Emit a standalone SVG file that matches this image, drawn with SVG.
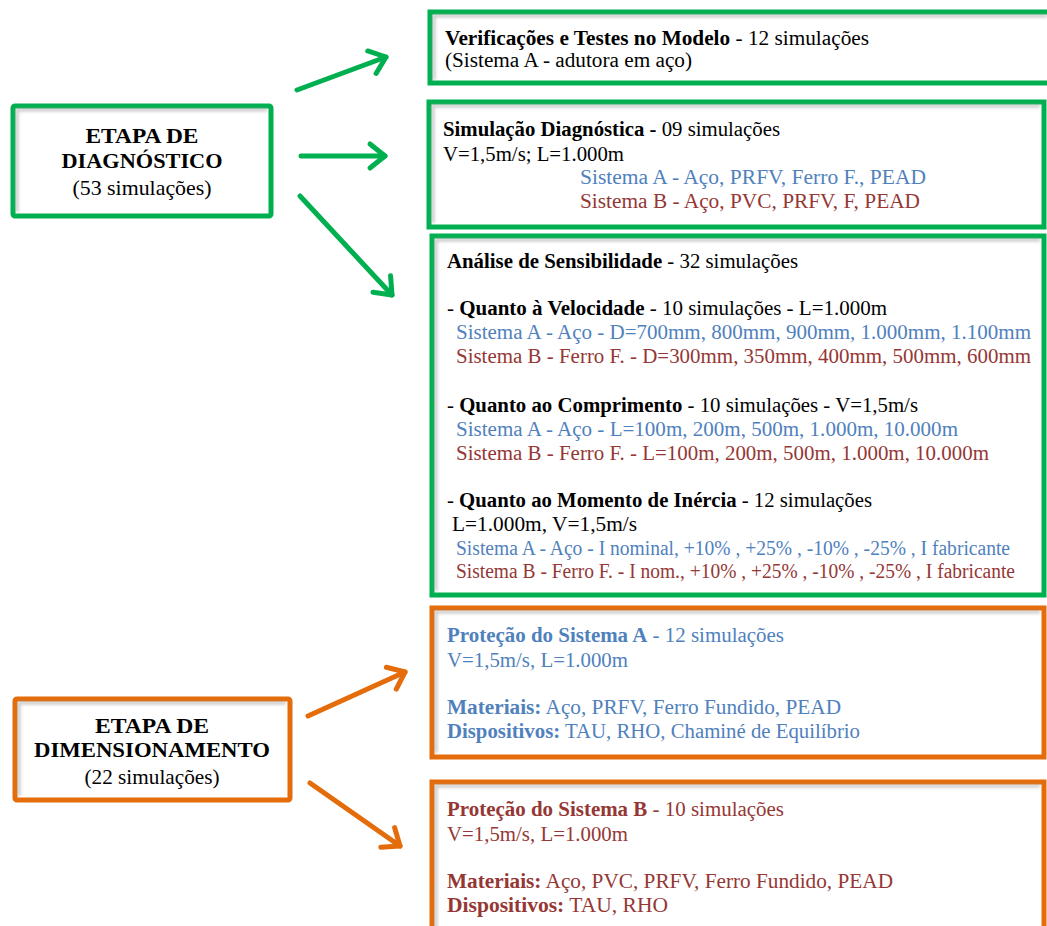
<svg xmlns="http://www.w3.org/2000/svg" width="1047" height="926" viewBox="0 0 1047 926">
<style>
.g{fill:#fff;stroke:#00B050;stroke-width:5}
.o{fill:#fff;stroke:#E46C0A;stroke-width:5}
.sh{fill:none;stroke:#9a9a9a;stroke-width:3;opacity:0.55;filter:url(#blur)}
text{font-family:"Liberation Serif","Times New Roman",serif;font-size:20px;fill:#000}
.b{font-weight:bold}
.t{font-size:22px;font-weight:bold}
.s{font-size:21px}
.bl{fill:#4F81BD}
.rd{fill:#953735}
.cg{fill:none;stroke:#00B050;stroke-width:5;stroke-linecap:round}
.co{fill:none;stroke:#E46C0A;stroke-width:5;stroke-linecap:round}
</style>
<defs>
<filter id="blur" x="-5%" y="-5%" width="110%" height="110%"><feGaussianBlur stdDeviation="1.5"/></filter>
<marker id="ag" markerUnits="userSpaceOnUse" markerWidth="40" markerHeight="40" viewBox="-20 -20 40 40" refX="0" refY="0" orient="auto" overflow="visible">
<path d="M-15,-12 L0,0 L-15,12" fill="none" stroke="#00B050" stroke-width="5" stroke-linecap="round" stroke-linejoin="round"/>
</marker>
<marker id="ao" markerUnits="userSpaceOnUse" markerWidth="40" markerHeight="40" viewBox="-20 -20 40 40" refX="0" refY="0" orient="auto" overflow="visible">
<path d="M-15,-12 L0,0 L-15,12" fill="none" stroke="#E46C0A" stroke-width="5" stroke-linecap="round" stroke-linejoin="round"/>
</marker>
</defs>
<rect width="1047" height="926" fill="#fff"/>

<g id="connectors">
<line class="cg" x1="297" y1="90" x2="386" y2="57" marker-end="url(#ag)"/>
<line class="cg" x1="301" y1="156" x2="385" y2="156" marker-end="url(#ag)"/>
<line class="cg" x1="300" y1="196" x2="392" y2="295" marker-end="url(#ag)"/>
<line class="co" x1="308" y1="716" x2="405" y2="672" marker-end="url(#ao)"/>
<line class="co" x1="310" y1="783" x2="400" y2="846" marker-end="url(#ao)"/>
</g>

<g id="etapa-diagnostico">
<rect class="g" x="13" y="106" width="258" height="110" rx="2"/>
<path class="sh" d="M17,212 V110 H267"/>
<text class="t" x="142" y="143" text-anchor="middle" textLength="113" lengthAdjust="spacingAndGlyphs">ETAPA  DE</text>
<text class="t" x="142" y="168" text-anchor="middle" textLength="161" lengthAdjust="spacingAndGlyphs">DIAGNÓSTICO</text>
<text class="s" x="142" y="195" text-anchor="middle" textLength="139" lengthAdjust="spacingAndGlyphs">(53 simulações)</text>
</g>

<g id="etapa-dimensionamento">
<rect class="o" x="15" y="699" width="275" height="101" rx="2"/>
<path class="sh" d="M19,796 V703 H286"/>
<text class="t" x="152" y="733" text-anchor="middle" textLength="114" lengthAdjust="spacingAndGlyphs">ETAPA  DE</text>
<text class="t" x="152" y="757" text-anchor="middle" textLength="236" lengthAdjust="spacingAndGlyphs">DIMENSIONAMENTO</text>
<text class="s" x="152" y="784" text-anchor="middle" textLength="135" lengthAdjust="spacingAndGlyphs">(22 simulações)</text>
</g>

<g id="verificacoes">
<rect class="g" x="430" y="12" width="630" height="71"/>
<path class="sh" d="M434,80 V16 H1047"/>
<text x="445" y="45" textLength="424" lengthAdjust="spacingAndGlyphs"><tspan class="b">Verificações e Testes  no Modelo</tspan> - 12 simulações</text>
<text x="445" y="67" textLength="247" lengthAdjust="spacingAndGlyphs">(Sistema A - adutora em aço)</text>
</g>

<g id="simulacao-diagnostica">
<rect class="g" x="429" y="102" width="615" height="125"/>
<path class="sh" d="M433,223 V106 H1040"/>
<text x="443" y="136" textLength="337" lengthAdjust="spacingAndGlyphs"><tspan class="b">Simulação Diagnóstica -</tspan> 09 simulações</text>
<text x="443" y="161" textLength="181" lengthAdjust="spacingAndGlyphs">V=1,5m/s;  L=1.000m</text>
<text class="bl" x="580" y="184" textLength="346" lengthAdjust="spacingAndGlyphs">Sistema A - Aço, PRFV, Ferro F., PEAD</text>
<text class="rd" x="580" y="208" textLength="340" lengthAdjust="spacingAndGlyphs">Sistema B - Aço, PVC, PRFV, F, PEAD</text>
</g>

<g id="analise-sensibilidade">
<rect class="g" x="432" y="236" width="612" height="359"/>
<path class="sh" d="M436,591 V240 H1040"/>
<text x="447" y="268" textLength="351" lengthAdjust="spacingAndGlyphs"><tspan class="b">Análise de Sensibilidade</tspan> - 32 simulações</text>
<text x="447" y="315" textLength="440" lengthAdjust="spacingAndGlyphs">- <tspan class="b">Quanto à Velocidade</tspan> - 10 simulações  - L=1.000m</text>
<text class="bl" x="456" y="339" textLength="575" lengthAdjust="spacingAndGlyphs">Sistema A - Aço - D=700mm,  800mm,  900mm,  1.000mm,  1.100mm</text>
<text class="rd" x="456" y="363" textLength="575" lengthAdjust="spacingAndGlyphs">Sistema B - Ferro F. - D=300mm,  350mm,  400mm,  500mm,  600mm</text>
<text x="447" y="412" textLength="471" lengthAdjust="spacingAndGlyphs">- <tspan class="b">Quanto ao Comprimento</tspan> - 10 simulações  - V=1,5m/s</text>
<text class="bl" x="456" y="436" textLength="502" lengthAdjust="spacingAndGlyphs">Sistema A - Aço - L=100m,  200m,  500m,  1.000m,  10.000m</text>
<text class="rd" x="456" y="460" textLength="533" lengthAdjust="spacingAndGlyphs">Sistema B - Ferro F. - L=100m,  200m,  500m,  1.000m,  10.000m</text>
<text x="447" y="507" textLength="425" lengthAdjust="spacingAndGlyphs">- <tspan class="b">Quanto ao Momento de Inércia</tspan> - 12 simulações</text>
<text x="452" y="531" textLength="185" lengthAdjust="spacingAndGlyphs">L=1.000m,  V=1,5m/s</text>
<text class="bl" x="456" y="555" textLength="554" lengthAdjust="spacingAndGlyphs">Sistema A - Aço  - I nominal,  +10% ,  +25% ,  -10% ,  -25% ,  I fabricante</text>
<text class="rd" x="456" y="578" textLength="559" lengthAdjust="spacingAndGlyphs">Sistema B - Ferro F. - I nom.,  +10% ,  +25% ,  -10% ,  -25% , I fabricante</text>
</g>

<g id="protecao-sistema-a">
<rect class="o" x="432" y="608" width="612" height="149"/>
<path class="sh" d="M436,753 V612 H1040"/>
<text class="bl" x="447" y="642" textLength="337" lengthAdjust="spacingAndGlyphs"><tspan class="b">Proteção do Sistema A</tspan> - 12 simulações</text>
<text class="bl" x="447" y="667" textLength="181" lengthAdjust="spacingAndGlyphs">V=1,5m/s,  L=1.000m</text>
<text class="bl" x="447" y="714" textLength="394" lengthAdjust="spacingAndGlyphs"><tspan class="b">Materiais:</tspan> Aço, PRFV, Ferro Fundido,  PEAD</text>
<text class="bl" x="447" y="738" textLength="413" lengthAdjust="spacingAndGlyphs"><tspan class="b">Dispositivos:</tspan> TAU, RHO, Chaminé de Equilíbrio</text>
</g>

<g id="protecao-sistema-b">
<rect class="o" x="432" y="782" width="612" height="160"/>
<path class="sh" d="M436,930 V786 H1040"/>
<text class="rd" x="447" y="816" textLength="337" lengthAdjust="spacingAndGlyphs"><tspan class="b">Proteção do Sistema B</tspan> - 10 simulações</text>
<text class="rd" x="447" y="841" textLength="181" lengthAdjust="spacingAndGlyphs">V=1,5m/s,  L=1.000m</text>
<text class="rd" x="447" y="888" textLength="446" lengthAdjust="spacingAndGlyphs"><tspan class="b">Materiais:</tspan> Aço, PVC, PRFV, Ferro Fundido,  PEAD</text>
<text class="rd" x="447" y="912" textLength="221" lengthAdjust="spacingAndGlyphs"><tspan class="b">Dispositivos:</tspan> TAU, RHO</text>
</g>
</svg>
